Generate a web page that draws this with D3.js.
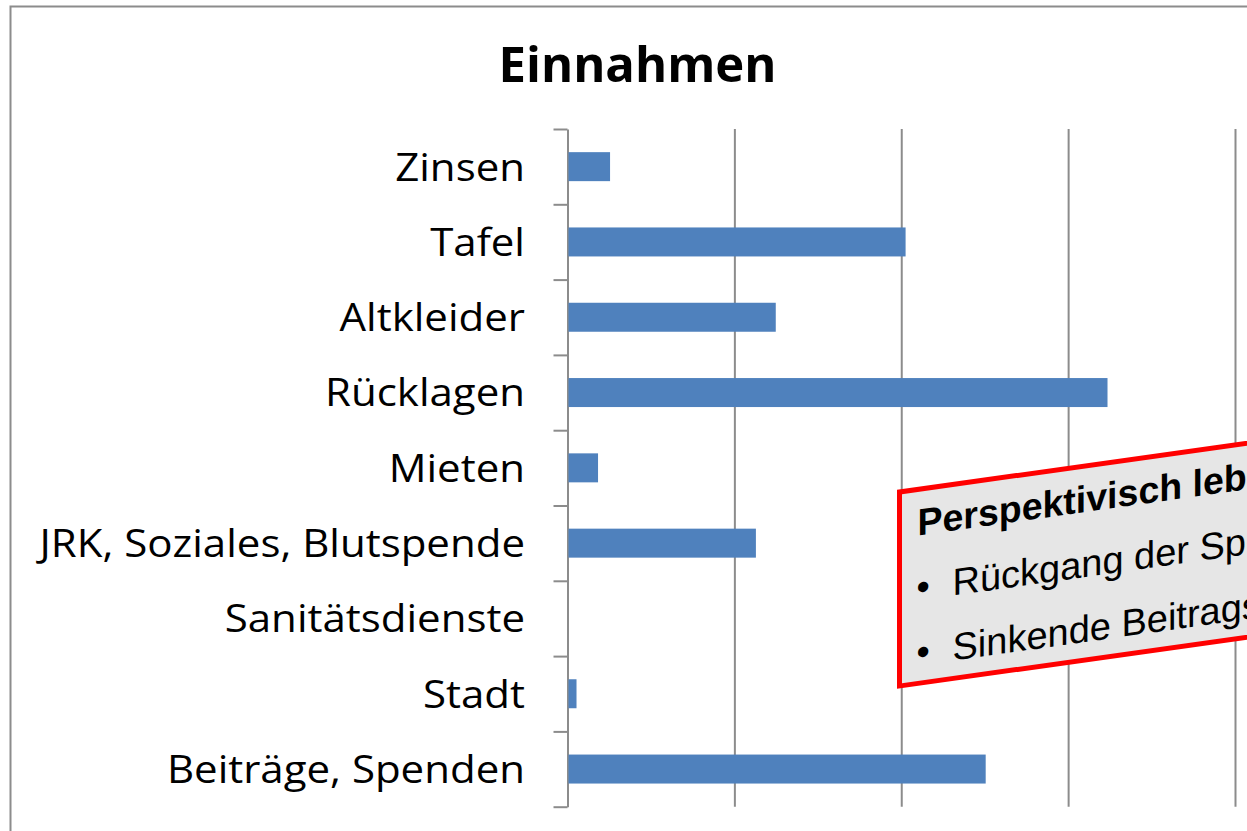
<!DOCTYPE html>
<html>
<head>
<meta charset="utf-8">
<script src="https://cdn.jsdelivr.net/npm/d3@7"></script>
<style>
  body { margin: 0; background: #fff; overflow: hidden; }
  svg { display: block; }
</style>
</head>
<body>
<script>
// data, top to bottom as shown
const categories = ["Zinsen", "Tafel", "Altkleider", "Rücklagen", "Mieten",
  "JRK, Soziales, Blutspende", "Sanitätsdienste", "Stadt", "Beiträge, Spenden"];
const values = [1275, 10130, 6240, 16180, 915, 5645, 0, 270, 12530];
const gridTicks = [5000, 10000, 15000, 20000];

const noteTitle = "Perspektivisch lebensbedrohlich:";
const noteItems = ["Rückgang der Spenden", "Sinkende Beitragseinnahmen"];

const W = 1247, H = 831;
const plot = { left: 567.5, right: 1235, top: 129, bottom: 806.7 };

const svg = d3.select("body").append("svg")
  .attr("width", W)
  .attr("height", H);

// outer chart frame (runs off the right/bottom edge)
svg.append("rect")
  .attr("x", 10.5).attr("y", 6.5)
  .attr("width", 1400).attr("height", 1000)
  .attr("fill", "#fff")
  .attr("stroke", "#8c8c8c")
  .attr("stroke-width", 2);

// title
svg.append("text")
  .attr("x", 637.5).attr("y", 81.5)
  .attr("text-anchor", "middle")
  .style("font-family", "'Open Sans', sans-serif")
  .style("font-weight", 700)
  .style("font-size", "49px")
  .text("Einnahmen");

// scales
const xScale = d3.scaleLinear()
  .domain([0, 20000])
  .range([plot.left, plot.right]);

const yScale = d3.scaleBand()
  .domain(categories)
  .range([plot.top, plot.bottom])
  .paddingInner(0.615)
  .paddingOuter(0.3075);

const idxScale = d3.scaleLinear()
  .domain([0, categories.length])
  .range([plot.top, plot.bottom]);

// vertical gridlines
const grid = svg.append("g")
  .attr("transform", "translate(0," + plot.top + ")")
  .call(d3.axisBottom(xScale)
    .tickValues(gridTicks)
    .tickSize(plot.bottom - plot.top)
    .tickFormat(""));
grid.select(".domain").remove();
grid.selectAll("line").attr("stroke", "#8c8c8c").attr("stroke-width", 2);

// category axis: line + ticks between categories
const yAxisG = svg.append("g")
  .attr("transform", "translate(" + plot.left + ",0)")
  .call(d3.axisLeft(idxScale)
    .ticks(categories.length)
    .tickSizeInner(14)
    .tickSizeOuter(0)
    .tickFormat(""));
yAxisG.select(".domain").attr("stroke", "#8c8c8c").attr("stroke-width", 2);
yAxisG.selectAll("line").attr("stroke", "#8c8c8c").attr("stroke-width", 2);

// bars
svg.append("g").selectAll("rect")
  .data(categories)
  .join("rect")
  .attr("x", xScale(0) + 1)
  .attr("y", d => yScale(d))
  .attr("width", (d, i) => Math.max(0, xScale(values[i]) - xScale(0) - 1))
  .attr("height", yScale.bandwidth())
  .attr("fill", "#4f81bd");

// category labels (stretched a bit to match the wider original face)
const labels = svg.append("g").selectAll("text")
  .data(categories)
  .join("text")
  .attr("x", 525)
  .attr("y", d => yScale(d) + yScale.bandwidth() / 2)
  .attr("dy", "0.37em")
  .attr("text-anchor", "end")
  .style("font-family", "'Open Sans', sans-serif")
  .style("font-size", "37.5px")
  .attr("fill", "#000")
  .text(d => d);
labels.each(function() {
  const w = this.getComputedTextLength();
  d3.select(this)
    .attr("textLength", w * 1.12)
    .attr("lengthAdjust", "spacingAndGlyphs");
});

// skewed call-out box
const note = svg.append("g")
  .attr("transform", "translate(899.5,492) skewY(-8)");

note.append("rect")
  .attr("x", 0).attr("y", 0)
  .attr("width", 700).attr("height", 194)
  .attr("fill", "#e6e6e6")
  .attr("stroke", "#ff0000")
  .attr("stroke-width", 5);

note.append("text")
  .attr("x", 18).attr("y", 46)
  .style("font-family", "'Liberation Sans', Arial, sans-serif")
  .style("font-weight", 700)
  .style("font-size", "37.5px")
  .text(noteTitle);

const items = note.selectAll("g.item")
  .data(noteItems)
  .join("g")
  .attr("class", "item")
  .attr("transform", (d, i) => "translate(0," + (111 + i * 65) + ")");

items.append("text")
  .attr("x", 17).attr("y", 0)
  .style("font-family", "'Liberation Sans', Arial, sans-serif")
  .style("font-size", "38px")
  .text("\u2022");

items.append("text")
  .attr("x", 53).attr("y", 0)
  .style("font-family", "'Liberation Sans', Arial, sans-serif")
  .style("font-size", "38px")
  .text(d => d);
</script>
</body>
</html>
